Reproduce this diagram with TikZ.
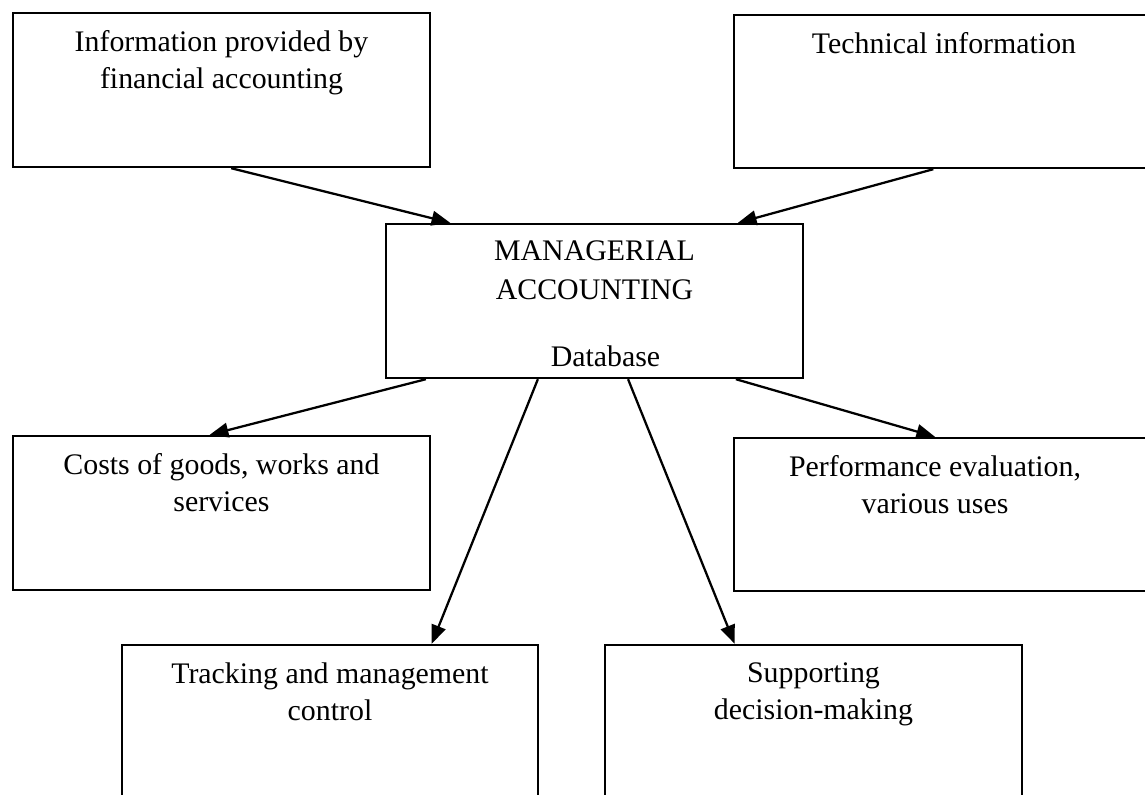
\documentclass[tikz,border=0pt]{standalone}
\usepackage{fontspec}
\setmainfont{Liberation Serif}
\usetikzlibrary{arrows.meta,calc,fit}
\begin{document}
\begin{tikzpicture}[x=0.75pt,y=-0.75pt,
  box/.style={draw=black,line width=1.8pt,inner sep=0pt,rectangle},
  txt/.style={anchor=north,align=center,inner sep=0pt,font=\fontsize{22.4}{27.8}\selectfont},
  arr/.style={line width=1.7pt,-{Triangle[length=14pt,width=11pt]}}]
\useasboundingbox (0,0) rectangle (1145,795);
\clip (0,0) rectangle (1145,795);
% boxes
\node[box,fit={(13,13) (430,167)}] (fin) {};
\node[box,fit={(734,15) (1160,168)}] (tech) {};
\node[box,fit={(386,224) (803,378)}] (mgr) {};
\node[box,fit={(13,436) (430,590)}] (cost) {};
\node[box,fit={(734,438) (1160,591)}] (perf) {};
\node[box,fit={(122,645) (538,820)}] (track) {};
\node[box,fit={(605,645) (1022,820)}] (supp) {};
% texts
\node[txt] (fint) at ($(fin.north)+(0,18)$) {Information provided by\\financial accounting};
\node[txt] (techt) at ($(tech.north)+(-3,18)$) {Technical information};
\node[txt,font=\fontsize{22.4}{29.3}\selectfont] (mgrt) at ($(mgr.north)+(0,18)$) {MANAGERIAL\\ACCOUNTING};
\node[anchor=base,inner sep=0pt,font=\fontsize{22.4}{27.8}\selectfont] (dbt) at ($(mgr.south)+(11,-13)$) {Database};
\node[txt] (costt) at ($(cost.north)+(0,18)$) {Costs of goods, works and\\services};
\node[txt] (perft) at ($(perf.north)+(-12,18)$) {Performance evaluation,\\various uses};
\node[txt] (trackt) at ($(track.north)+(0,19)$) {Tracking and management\\control};
\node[txt] (suppt) at ($(supp.north)+(0,19)$) {Supporting\\decision-making};
% arrows
\draw[arr] ($(fin.south west)!0.523!(fin.south east)$) -- ($(mgr.north west)!0.156!(mgr.north east)$);
\draw[arr] ($(tech.south west)!0.468!(tech.south east)$) -- ($(mgr.north west)!0.842!(mgr.north east)$);
\draw[arr] ($(mgr.south west)!0.098!(mgr.south east)$) -- ($(cost.north west)!0.472!(cost.north east)$);
\draw[arr] ($(mgr.south west)!0.837!(mgr.south east)$) -- ($(perf.north west)!0.472!(perf.north east)$);
\draw[arr] ($(mgr.south west)!0.365!(mgr.south east)$) -- ($(track.north west)!0.743!(track.north east)$);
\draw[arr] ($(mgr.south west)!0.580!(mgr.south east)$) -- ($(supp.north west)!0.312!(supp.north east)$);
\end{tikzpicture}
\end{document}
